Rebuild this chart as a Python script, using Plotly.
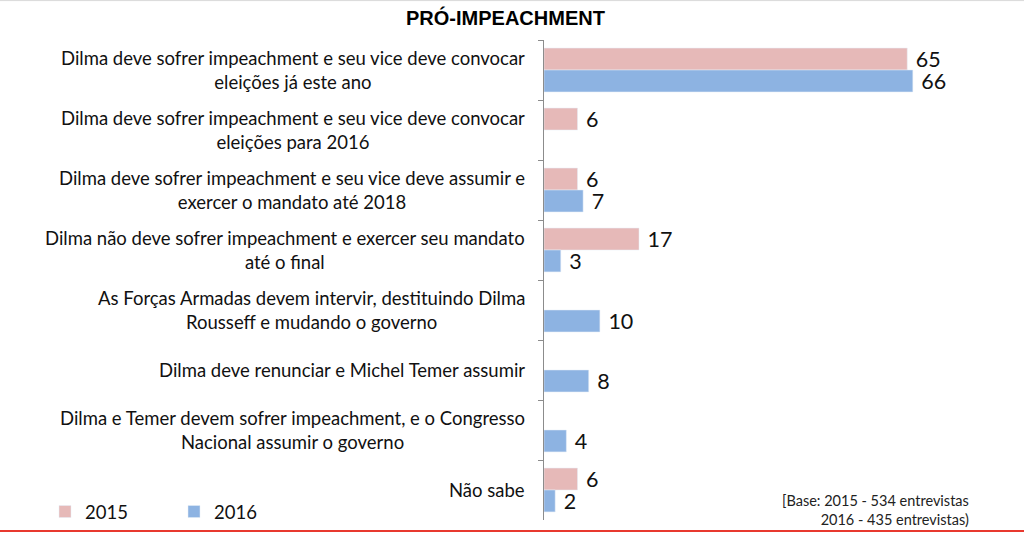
import plotly.graph_objects as go

# respostas (ordem de cima para baixo)
categorias = [
    "Dilma deve sofrer impeachment e seu vice deve convocar<br>eleições já este ano",
    "Dilma deve sofrer impeachment e seu vice deve convocar<br>eleições para 2016",
    "Dilma deve sofrer impeachment e seu vice deve assumir e<br>exercer o mandato até 2018",
    "Dilma não deve sofrer impeachment e exercer seu mandato<br>até o final",
    "As Forças Armadas devem intervir, destituindo Dilma<br>Rousseff e mudando o governo",
    "Dilma deve renunciar e Michel Temer assumir",
    "Dilma e Temer devem sofrer impeachment, e o Congresso<br>Nacional assumir o governo",
    "Não sabe",
]
valores_2015 = [65, 6, 6, 17, None, None, None, 6]
valores_2016 = [66, None, 7, 3, 10, 8, 4, 2]

titulo = "PRÓ-IMPEACHMENT"
nota_base = "[Base: 2015 - 534 entrevistas<br>2016 - 435 entrevistas)"

W, H = 1024, 535
L, R, T, B = 544, 5, 40, 14
pw, ph = W - L - R, H - T - B


def px_x(px):
    return (px - L) / pw


def px_y(py):
    return (H - B - py) / ph


def rotulos(vals):
    # espaço inseparável para afastar o número da barra
    return ["\u00a0" + str(v) if v is not None else "" for v in vals]


fonte = "Lato, 'Open Sans', sans-serif"

fig = go.Figure()
fig.add_trace(go.Bar(
    name="2015", y=categorias, x=valores_2015, orientation="h",
    marker_color="#E6B9B8",
    text=rotulos(valores_2015),
    textposition="outside", cliponaxis=False, constraintext="none",
    textfont=dict(size=21.5, color="#111111", family=fonte),
))
fig.add_trace(go.Bar(
    name="2016", y=categorias, x=valores_2016, orientation="h",
    marker_color="#8DB3E2",
    text=rotulos(valores_2016),
    textposition="outside", cliponaxis=False, constraintext="none",
    textfont=dict(size=21.5, color="#111111", family=fonte),
))

# rótulos das categorias, centralizados como no original
for c in categorias:
    fig.add_annotation(
        x=px_x(527), xref="paper", xanchor="right",
        y=c, yref="y", yanchor="middle",
        text=c, align="center", showarrow=False,
        font=dict(size=18.5, color="#111111", family=fonte),
    )

fig.add_annotation(
    x=px_x(505), xref="paper", xanchor="center",
    y=px_y(17), yref="paper", yanchor="middle",
    text="<b>" + titulo + "</b>", showarrow=False,
    font=dict(size=20, color="#000000", family="Liberation Sans, Arial, sans-serif"),
)
fig.add_annotation(
    x=px_x(971), xref="paper", xanchor="right",
    y=px_y(511), yref="paper", yanchor="middle",
    text=nota_base, align="right", showarrow=False,
    font=dict(size=14.5, color="#222222", family=fonte),
)

# linhas decorativas (topo cinza, base vermelha)
fig.add_shape(type="line", xref="paper", yref="paper",
              x0=px_x(0), x1=px_x(W), y0=px_y(0.5), y1=px_y(0.5),
              line=dict(color="#D9D9D9", width=1))
fig.add_shape(type="line", xref="paper", yref="paper",
              x0=px_x(0), x1=px_x(W), y0=px_y(532), y1=px_y(532),
              line=dict(color="#E8392F", width=2))

fig.update_layout(
    width=W, height=H,
    margin=dict(l=L, r=R, t=T, b=B),
    plot_bgcolor="white", paper_bgcolor="white",
    barmode="group", bargap=0.27, bargroupgap=0,
    font=dict(family=fonte, color="#111111"),
    showlegend=True,
    legend=dict(
        orientation="h", x=px_x(45), xanchor="left",
        y=px_y(512), yanchor="middle",
        entrywidth=84, itemwidth=30,
        font=dict(size=18.5, color="#111111", family=fonte),
        bgcolor="rgba(0,0,0,0)",
    ),
    xaxis=dict(range=[0, 85], visible=False, fixedrange=True),
    yaxis=dict(
        autorange="reversed", showticklabels=False,
        showline=True, linecolor="#8C8C8C", linewidth=1,
        ticks="outside", tickson="boundaries", ticklen=5, tickcolor="#8C8C8C",
        showgrid=False, zeroline=False, fixedrange=True,
    ),
)

fig.write_html(
    "out.html",
    config={"displayModeBar": False},
    post_script="document.body.style.margin='0';document.body.style.overflow='hidden';",
)
